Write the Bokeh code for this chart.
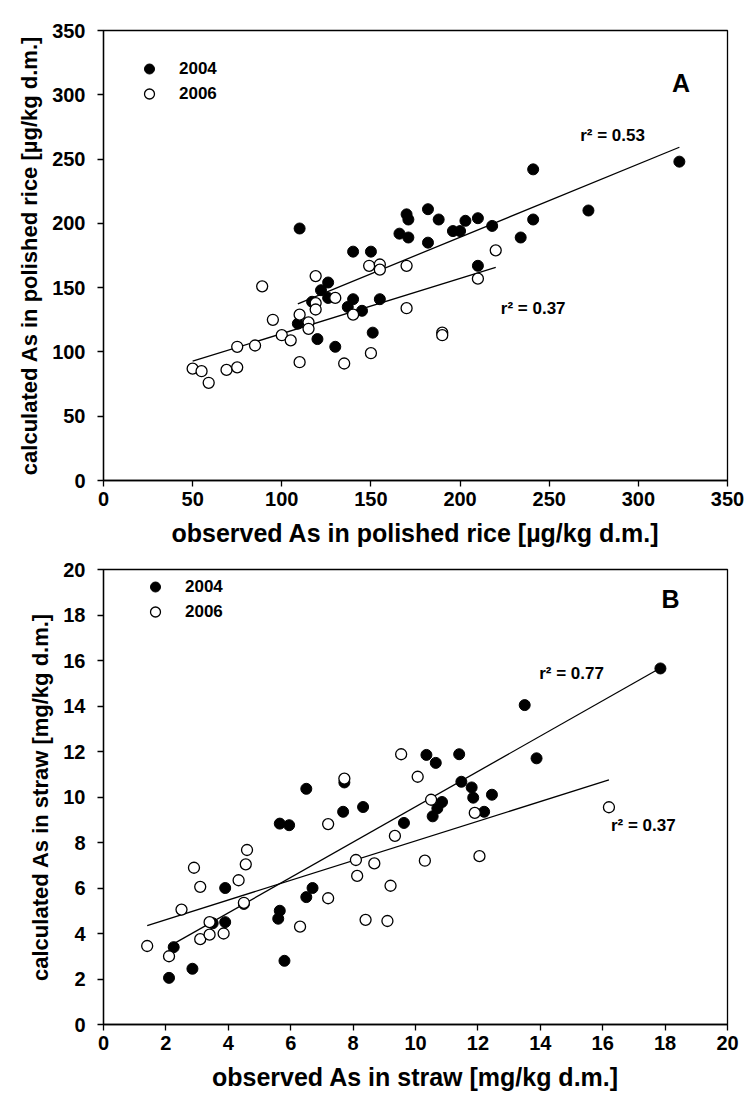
from bokeh.plotting import figure
from bokeh.models import FixedTicker, Range1d, Label, Legend, LegendItem
from bokeh.layouts import column
from bokeh.embed import file_html
from bokeh.resources import INLINE

# ---------------- data: panel A (polished rice, ug/kg) ----------------
obs_a_2004 = [110, 109, 117, 122, 126, 126, 120, 130, 137, 140, 140, 145, 150, 151, 155,
              166, 170, 171, 171, 182, 182, 188, 196, 200, 203, 210, 210, 218, 234, 241,
              241, 272, 323]
calc_a_2004 = [196, 122, 139, 148, 154, 142, 110, 104, 135, 178, 141, 132, 178, 115, 141,
               192, 207, 203, 189, 211, 185, 203, 194, 194, 202, 204, 167, 198, 189, 242,
               203, 210, 248]
obs_a_2006 = [50, 55, 59, 69, 75, 75, 85, 89, 95, 100, 105, 110, 110, 115, 115, 119, 119,
              119, 130, 135, 140, 149, 150, 155, 155, 170, 170, 190, 190, 210, 220]
calc_a_2006 = [87, 85, 76, 86, 88, 104, 105, 151, 125, 113, 109, 129, 92, 123, 118, 159, 138,
               133, 142, 91, 129, 167, 99, 168, 164, 167, 134, 115, 113, 157, 179]
fit_a_2004 = (0.569, 75.4)   # slope, intercept
fit_a_2006 = (0.4296, 71.3)
r2_a = ["r\u00b2 = 0.53", "r\u00b2 = 0.37"]
ticks_a = [0, 50, 100, 150, 200, 250, 300, 350]

# ---------------- data: panel B (straw, mg/kg) ----------------
obs_b_2004 = [2.1, 2.25, 2.85, 3.5, 3.9, 3.9, 4.5, 5.6, 5.65, 5.8, 5.65, 5.95, 6.5, 6.7, 6.5,
              7.68, 7.72, 8.32, 9.63, 10.35, 10.65, 10.55, 10.7, 10.85, 11.4, 11.47, 11.8,
              11.85, 12.2, 12.45, 13.5, 13.88, 17.85]
calc_b_2004 = [2.05, 3.4, 2.45, 4.45, 6.0, 4.5, 5.3, 4.65, 5.0, 2.8, 8.83, 8.76, 5.6, 6.0,
               10.36, 9.35, 10.64, 9.56, 8.86, 11.85, 11.5, 9.15, 9.5, 9.78, 11.88, 10.67,
               10.42, 9.97, 9.35, 10.1, 14.04, 11.7, 15.65]
obs_b_2006 = [1.4, 2.1, 2.5, 2.9, 3.1, 3.1, 3.4, 3.4, 3.85, 4.33, 4.56, 4.6, 4.5, 6.3, 7.2,
              7.2, 7.72, 8.09, 8.13, 8.4, 8.68, 9.1, 9.2, 9.34, 9.54, 10.07, 10.3, 10.5,
              11.9, 12.05, 16.2]
calc_b_2006 = [3.45, 3.0, 5.05, 6.89, 6.05, 3.75, 4.5, 3.95, 4.0, 6.34, 7.04, 7.67, 5.35,
               4.3, 8.81, 5.55, 10.81, 7.23, 6.53, 4.6, 7.08, 4.55, 6.1, 8.29, 11.88, 10.89,
               7.2, 9.88, 9.3, 7.4, 9.55]
fit_b_2004 = (0.777, 1.80)
fit_b_2006 = (0.433, 3.74)
r2_b = ["r\u00b2 = 0.77", "r\u00b2 = 0.37"]
ticks_b = [0, 2, 4, 6, 8, 10, 12, 14, 16, 18, 20]

years = ["2004", "2006"]

FONT = "Liberation Sans"


def make_panel(top, frame_h, bottom, ticks, xlabel, ylabel):
    p = figure(output_backend="svg", toolbar_location=None,
               x_range=Range1d(ticks[0], ticks[-1]), y_range=Range1d(ticks[0], ticks[-1]),
               frame_width=624, frame_height=frame_h,
               min_border_left=103, min_border_right=19,
               min_border_top=top, min_border_bottom=bottom)
    p.background_fill_color = "white"
    p.border_fill_color = "white"
    p.outline_line_color = "black"
    p.outline_line_width = 1.3
    p.outline_line_alpha = 1.0
    p.xgrid.visible = False
    p.ygrid.visible = False
    for ax in (p.xaxis[0], p.yaxis[0]):
        ax.ticker = FixedTicker(ticks=ticks)
        ax.major_label_text_font = FONT
        ax.major_label_text_font_style = "bold"
        ax.major_label_text_font_size = "20px"
        ax.major_label_text_color = "black"
        ax.axis_label_text_font = FONT
        ax.axis_label_text_font_style = "bold"
        ax.axis_label_text_color = "black"
        ax.major_tick_out = 6
        ax.major_tick_in = 0
        ax.minor_tick_out = 0
        ax.minor_tick_in = 0
        ax.axis_line_width = 1.3
        ax.major_tick_line_width = 1.3
        ax.axis_line_color = "black"
        ax.major_tick_line_color = "black"
    p.xaxis.axis_label = xlabel
    p.yaxis.axis_label = ylabel
    p.xaxis.axis_label_text_font_size = "25px"
    p.yaxis.axis_label_text_font_size = "22px"
    p.xaxis.major_label_standoff = 5
    p.xaxis.axis_label_standoff = 10
    p.yaxis.major_label_standoff = 12
    p.yaxis.axis_label_standoff = 7
    return p


def fill_panel(p, o4, c4, o6, c6, f4, f6, r2, r2pos, letter, letterpos, legend_loc):
    x4 = [min(o4), max(o4)]
    x6 = [min(o6), max(o6)]
    p.line(x4, [f4[0] * v + f4[1] for v in x4], line_color="black", line_width=1.3)
    p.line(x6, [f6[0] * v + f6[1] for v in x6], line_color="black", line_width=1.3)
    r1 = p.scatter(o4, c4, size=11, marker="circle", fill_color="black", line_color="black")
    r2r = p.scatter(o6, c6, size=11, marker="circle", fill_color="white", line_color="black",
                    line_width=1.3)
    for txt, (lx, ly) in zip(r2, r2pos):
        p.add_layout(Label(x=lx, y=ly, text=txt, text_font=FONT, text_font_style="bold",
                           text_font_size="17px", text_align="center", text_baseline="middle",
                           text_color="black"))
    p.add_layout(Label(x=letterpos[0], y=letterpos[1], text=letter, text_font=FONT,
                       text_font_style="bold", text_font_size="25px", text_align="center",
                       text_baseline="middle", text_color="black"))
    leg = Legend(items=[LegendItem(label=years[0], renderers=[r1]),
                        LegendItem(label=years[1], renderers=[r2r])],
                 location=legend_loc, margin=0, padding=0,
                 glyph_width=42, glyph_height=25, label_height=25, spacing=0,
                 label_standoff=9, label_text_font=FONT, label_text_font_style="bold",
                 label_text_font_size="17px", label_text_color="black",
                 border_line_color=None, background_fill_alpha=0)
    p.add_layout(leg)


pA = make_panel(30, 450, 69, ticks_a,
                "observed As in polished rice [\u00b5g/kg d.m.]",
                "calculated As in polished rice [\u00b5g/kg d.m.]")
fill_panel(pA, obs_a_2004, calc_a_2004, obs_a_2006, calc_a_2006, fit_a_2004, fit_a_2006,
           r2_a, [(285.5, 268.7), (241, 134)], "A", (324, 309), (25, 374))

pB = make_panel(20, 455, 75, ticks_b,
                "observed As in straw [mg/kg d.m.]",
                "calculated As in straw [mg/kg d.m.]")
fill_panel(pB, obs_b_2004, calc_b_2004, obs_b_2006, calc_b_2006, fit_b_2004, fit_b_2006,
           r2_b, [(15.0, 15.45), (17.3, 8.75)], "B", (18.17, 18.72), (31, 400))

layout = column(pA, pB, spacing=0)
open("out.html", "w").write(file_html(layout, INLINE))
